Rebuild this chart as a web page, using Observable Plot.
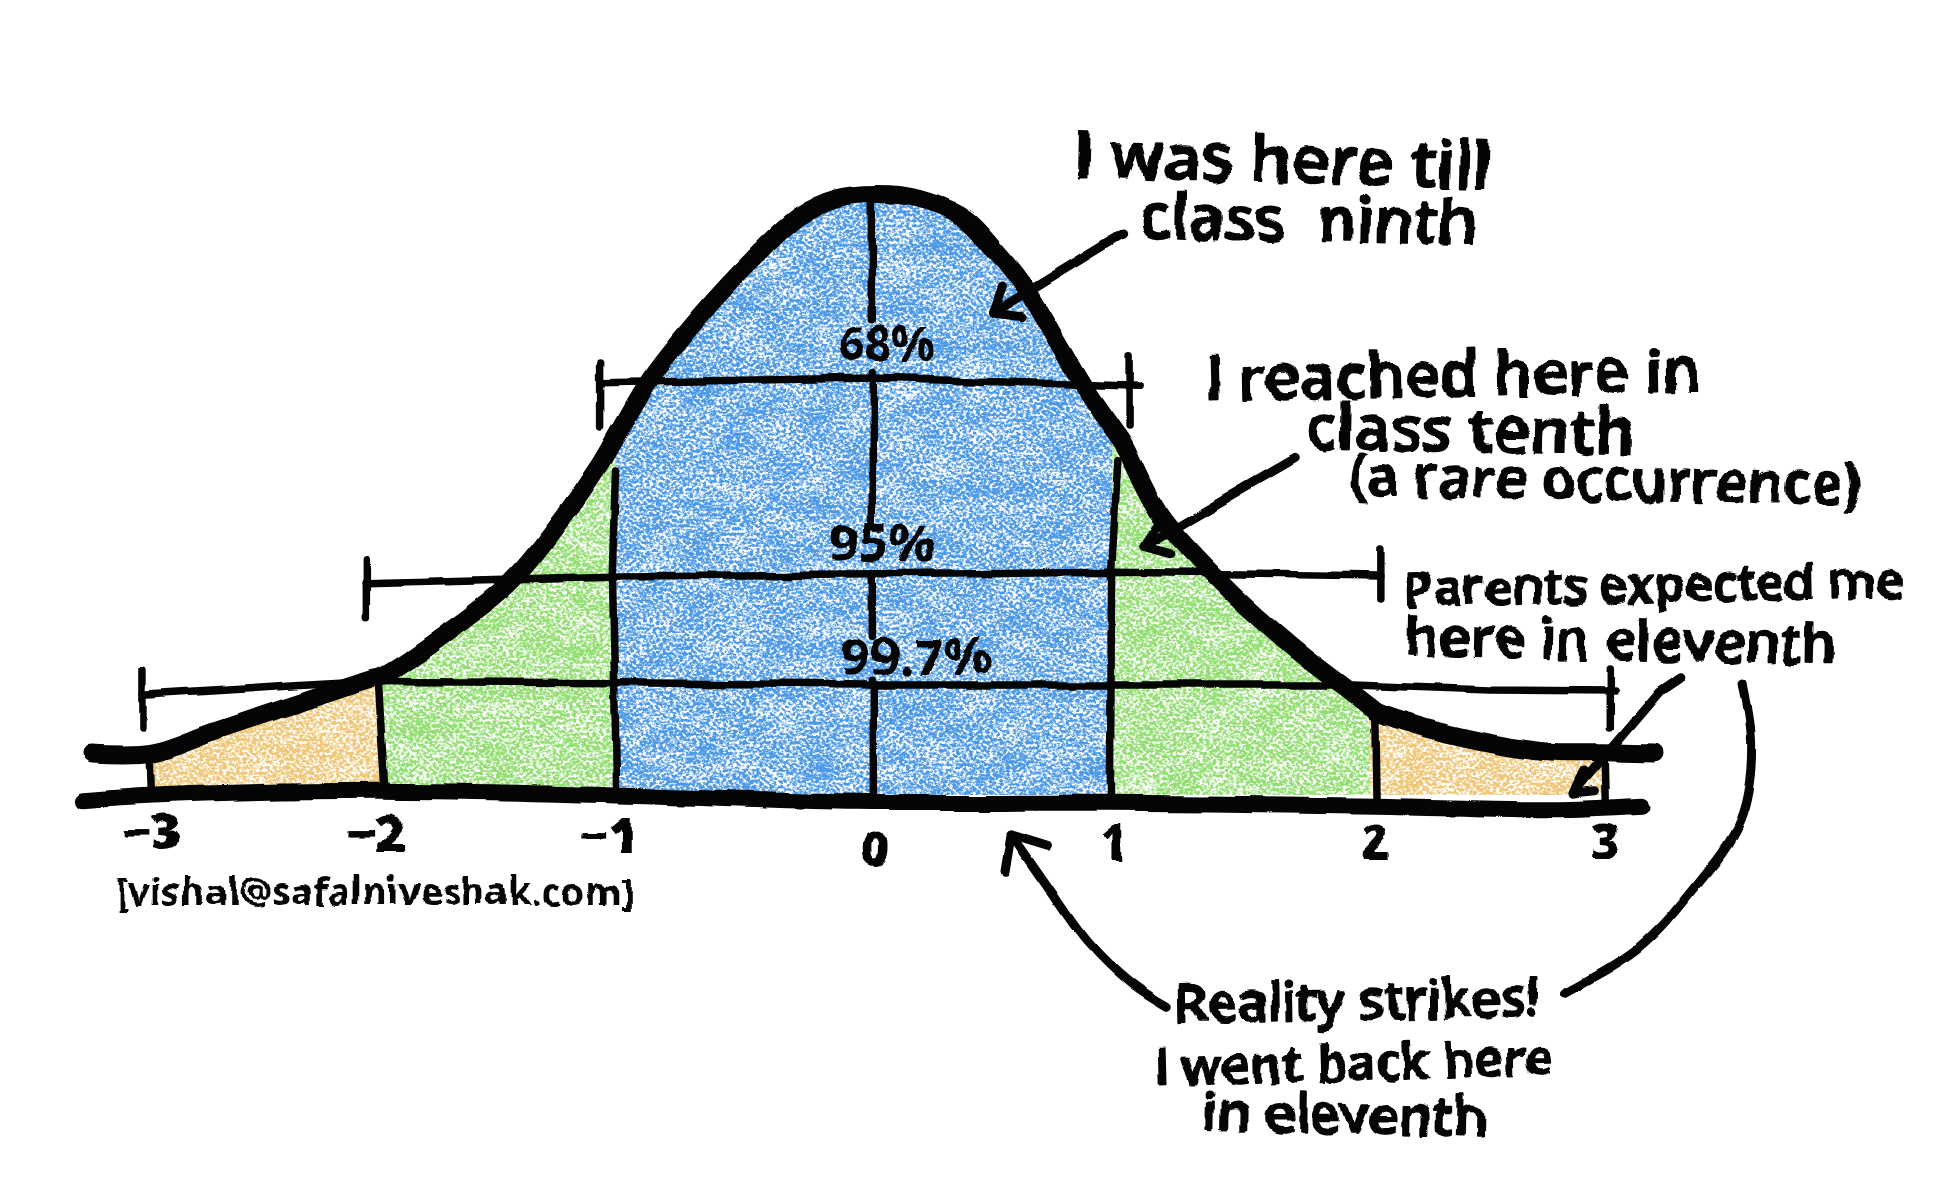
<!DOCTYPE html>
<html>
<head>
<meta charset="utf-8">
<script src="https://cdn.jsdelivr.net/npm/d3@7"></script>
<script src="https://cdn.jsdelivr.net/npm/@observablehq/plot@0.6"></script>
<style>
html,body{margin:0;padding:0;background:#fff}
svg{display:block}
</style>
</head>
<body>
<div id="chart"></div>
<script>
// Bell curve as drawn by hand: [z-score, height relative to the peak]
const bellCurve = [[-3.25,.070],[-3.0,.072],[-2.76,.105],[-2.45,.147],[-2.088,.194],[-2.05,.198],[-1.778,.271],[-1.519,.353],[-1.302,.459],[-1.147,.548],[-1.075,.597],[-.935,.692],[-.72,.80],[-.50,.895],[-.31,.965],[-.15,.995],[.06,1.002],[.227,.99],[.388,.96],[.496,.915],[.61,.860],[.739,.775],[.879,.680],[.997,.611],[1.039,.587],[1.183,.475],[1.452,.353],[1.736,.250],[1.969,.178],[2.07,.147],[2.093,.140],[2.393,.103],[2.796,.074],[3.05,.072],[3.25,.070]];
const baseline = [[-3.29,-.008],[-3.008,0],[-2.072,.008],[-1.07,0],[-.072,-.012],[.987,-.012],[2.093,-.017],[2.822,-.023],[3.2,-.017]];
const zones = [
  {from:-3.0,to:-2.05,colour:"#eec676"},
  {from:-2.05,to:-1.075,colour:"#93de72"},
  {from:-1.075,to:.997,colour:"#4b98e6"},
  {from:.997,to:2.07,colour:"#93de72"},
  {from:2.07,to:3.05,colour:"#eec676"}
];
// Range bars
const bar68 = [[-1.137,.688],[-.005,.696],[1.111,.682]];
const bar95 = [[-2.109,.353],[-1.054,.364],[0,.368],[1.013,.372],[2.114,.366]];
const bar997 = [[-3.044,.167],[-2.45,.182],[-2.088,.19],[-1.054,.188],[0,.184],[1.013,.184],[1.995,.184],[2.563,.176],[3.09,.174]];
const barEnds = [
  [[-1.137,.721],[-1.137,.614]],[[1.065,.733],[1.065,.616]],
  [[-2.109,.393],[-2.109,.298]],[[2.114,.411],[2.114,.329]],
  [[-3.044,.209],[-3.044,.114]],[[3.07,.211],[3.07,.114]]
];
// Vertical dividers
const dividers = [
  [[-.005,.986],[-.005,.793]],[[-.005,.705],[-.005,.459]],[[-.005,.364],[-.005,.267]],[[-.005,.192],[-.005,-.008]],
  [[-1.075,.541],[-1.088,.374],[-1.07,0]],[[1.018,.558],[.992,.374],[.987,-.008]],
  [[-2.062,.18],[-2.036,.008]],[[-3.018,.064],[-3.013,.002]],
  [[2.093,.13],[2.098,-.004]],[[3.049,.058],[3.054,-.025]]
];
// Annotation arrows
const arrows = [
  [[1.034,.936],[.496,.804]],[[.537,.849],[.496,.804],[.615,.798]],
  [[1.757,.562],[1.127,.415]],[[1.189,.452],[1.127,.415],[1.235,.403]],
  [[3.364,.198],[3.282,.176],[2.915,.004]],[[2.961,.041],[2.915,.004],[3.008,.008]],
  [[.729,-.083],[.574,-.064],[.548,-.128]]
];
const bentArrows = [
  [[1.22,-.353],[1.07,-.314],[.894,-.246],[.718,-.147],[.574,-.064]],
  [[3.623,.184],[3.659,.085],[3.612,-.041],[3.401,-.163],[3.189,-.254],[2.879,-.329]]
];
// Text
const tickLabels = ["−3","−2","−1","0","1","2","3"];
const tickX = [-3.008,-2.072,-1.101,.005,.997,2.093,3.049];
const tickY = [-.064,-.066,-.07,-.089,-.081,-.081,-.081];
const noteLabels = ["I was here till","class  ninth","I reached here in","class tenth","(a rare occurrence)","Parents expected me","here in eleventh","Reality strikes!","I went back here","in eleventh"];
const noteX = [1.705,1.814,2.413,2.486,3.049,3.251,3.111,2.016,2.0,1.964];
const noteY = [1.056,.957,.698,.607,.523,.349,.256,-.345,-.448,-.535];
const noteTilt = [1.5,1,-1,1,1,-1,1,-1,-1.5,1];
const noteSize = [65,62,61,63,56,49,55,52,50,53];
const percentLabels = ["68%","95%","99.7%"];
const percentX = [.052,.036,.176];
const percentY = [.75,.419,.229];
const percentSize = [48,52,52];
const credit = "[vishal@safalniveshak.com]";
const creditX = -2.078, creditY = -.163;

const tag = (pts, i) => pts.map(([x, y]) => ({x, y, i}));
const many = list => list.flatMap(tag);
const px = d => d[0], py = d => d[1];
const filtered = id => (index, scales, values, dims, ctx, next) => {
  const g = next(index, scales, values, dims, ctx);
  g.setAttribute("filter", `url(#${id})`);
  return g;
};
const font = "'Open Sans', sans-serif";

const thin = many([...barEnds, ...dividers, bar68, bar95, bar997]);
const arrowRows = many(arrows);
const bentRows = many(bentArrows);
const rowsOf = (labels, xs, ys, tilt, size) => labels.map((label, i) => ({label, x: xs[i], y: ys[i], tilt: tilt ? tilt[i] : 0, size: size ? size[i] : 0}));

const chart = Plot.plot({
  width: 1944, height: 1198,
  marginTop: 0, marginRight: 0, marginBottom: 0, marginLeft: 0,
  x: {domain: [-873/240, 1071/240], range: [0, 1944], axis: null},
  y: {domain: [-403/600, 795/600], range: [1198, 0], axis: null},
  style: {background: "#fff", fontFamily: font},
  marks: [
    ...zones.map(z => Plot.areaY(bellCurve.filter(d => d[0] >= z.from && d[0] <= z.to), {
      x: px, y1: 0, y2: py, fill: z.colour, curve: "catmull-rom", render: filtered("pencil")
    })),
    Plot.line(thin, {x: "x", y: "y", z: "i", stroke: "#050505", strokeWidth: 7.5, curve: "linear", render: filtered("wobble")}),
    Plot.line(arrowRows, {x: "x", y: "y", z: "i", stroke: "#050505", strokeWidth: 9, render: filtered("wobble")}),
    Plot.line(bentRows, {x: "x", y: "y", z: "i", stroke: "#050505", strokeWidth: 9, curve: "catmull-rom", render: filtered("wobble")}),
    Plot.line(bellCurve, {x: px, y: py, stroke: "#050505", strokeWidth: 18, curve: "catmull-rom", render: filtered("wobble")}),
    Plot.line(baseline, {x: px, y: py, stroke: "#050505", strokeWidth: 16, curve: "catmull-rom", render: filtered("wobble")}),
    Plot.text(rowsOf(noteLabels, noteX, noteY, noteTilt, noteSize), {
      x: "x", y: "y", text: "label", rotate: "tilt", fontSize: "size", fontWeight: 600,
      fill: "#050505", stroke: "#050505", strokeWidth: 2, textAnchor: "middle", lineAnchor: "middle",
      render: filtered("inky")
    }),
    Plot.text(rowsOf(percentLabels, percentX, percentY, null, percentSize), {
      x: "x", y: "y", text: "label", fontSize: "size", fontWeight: 700,
      fill: "#050505", textAnchor: "middle", lineAnchor: "middle", render: filtered("inky")
    }),
    Plot.text(rowsOf(tickLabels, tickX, tickY), {
      x: "x", y: "y", text: "label", fontSize: 50, fontWeight: 800,
      fill: "#050505", textAnchor: "middle", lineAnchor: "middle", render: filtered("inky")
    }),
    Plot.text([credit], {
      x: [creditX], y: [creditY], text: d => d, fontSize: 37.5, fontWeight: 700,
      fill: "#050505", textAnchor: "middle", lineAnchor: "middle", render: filtered("inky")
    })
  ]
});

const region = 'filterUnits="userSpaceOnUse" x="0" y="0" width="1944" height="1198" color-interpolation-filters="sRGB"';
const opaque = "1 0 0 0 0  0 1 0 0 0  0 0 1 0 0  0 0 0 0 1";
chart.insertAdjacentHTML("afterbegin", `<defs>
  <filter id="pencil" ${region}>
    <feTurbulence type="fractalNoise" baseFrequency="0.3 0.36" numOctaves="3" seed="7"/>
    <feColorMatrix type="matrix" values="${opaque}" result="fine"/>
    <feTurbulence type="fractalNoise" baseFrequency="0.025 0.05" numOctaves="3" seed="21"/>
    <feColorMatrix type="matrix" values="${opaque}" result="broad"/>
    <feComposite in="fine" in2="broad" operator="arithmetic" k1="0" k2="0.8" k3="0.2" k4="0" result="grain"/>
    <feColorMatrix in="grain" type="matrix" values="0 0 0 0 1  0 0 0 0 1  0 0 0 0 1  5 0 0 0 -2.15" result="flecks"/>
    <feComposite in="flecks" in2="SourceGraphic" operator="in" result="paper"/>
    <feMerge><feMergeNode in="SourceGraphic"/><feMergeNode in="paper"/></feMerge>
  </filter>
  <filter id="wobble" ${region}>
    <feTurbulence type="fractalNoise" baseFrequency="0.018" numOctaves="2" seed="3" result="n"/>
    <feDisplacementMap in="SourceGraphic" in2="n" scale="7" xChannelSelector="R" yChannelSelector="G"/>
  </filter>
  <filter id="inky" ${region}>
    <feTurbulence type="fractalNoise" baseFrequency="0.035" numOctaves="2" seed="11" result="n"/>
    <feDisplacementMap in="SourceGraphic" in2="n" scale="9" xChannelSelector="R" yChannelSelector="G"/>
  </filter>
</defs>`);
document.getElementById("chart").append(chart);
</script>
</body>
</html>
